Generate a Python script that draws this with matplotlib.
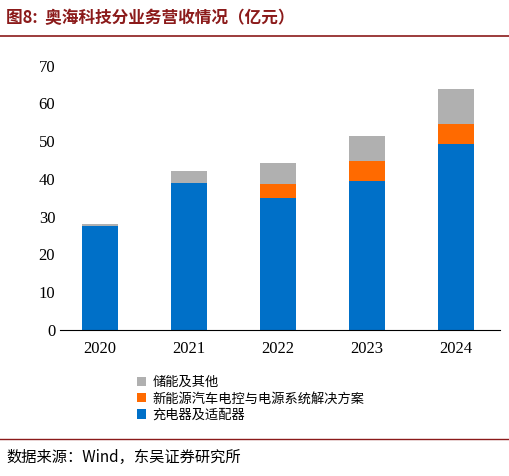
import matplotlib
matplotlib.use("Agg")
import matplotlib.pyplot as plt
import numpy as np

plt.rcParams['font.family'] = ['Noto Sans CJK SC', 'DejaVu Sans']

years = ["2020", "2021", "2022", "2023", "2024"]
charger = [27.6, 39.0, 35.0, 39.5, 49.2]
nev = [0.0, 0.0, 3.6, 5.3, 5.4]
other = [0.5, 3.2, 5.6, 6.7, 9.3]

fig = plt.figure(figsize=(5.09, 4.76), dpi=100)
ax = fig.add_axes([0.118, 0.307, 0.865, 0.555])
x = np.arange(len(years))
w = 0.4
ax.bar(x, charger, w, color='#0070C8', label='充电器及适配器')
ax.bar(x, nev, w, bottom=charger, color='#FF6A00', label='新能源汽车电控与电源系统解决方案')
ax.bar(x, other, w, bottom=np.array(charger) + np.array(nev), color='#B0B0B0', label='储能及其他')
ax.set_ylim(0, 70)
ax.set_yticks(range(0, 71, 10))
ax.set_xticks(x)
ax.set_xticklabels(years, fontfamily='Liberation Serif', fontsize=12)
for t in ax.get_yticklabels():
    t.set_fontfamily('Liberation Serif'); t.set_fontsize(12)
ax.set_xlim(-0.45, 4.5)
for s in ['top', 'right', 'left']:
    ax.spines[s].set_visible(False)
ax.tick_params(axis='y', length=0)
ax.tick_params(axis='x', length=0, pad=8)
h, l = ax.get_legend_handles_labels()
fig.legend(h[::-1], l[::-1], loc='upper left', bbox_to_anchor=(0.245, 0.235),
           frameon=False, fontsize=9.5, handlelength=0.7, handleheight=0.7,
           labelspacing=0.25, handletextpad=0.5)

fig.text(0.012, 0.962, "图8:  奥海科技分业务营收情况（亿元）", color='#8B1A1A',
         fontsize=12, fontweight='bold', va='center')
fig.add_artist(plt.Line2D([0.0, 1.0], [0.925, 0.925], color='#8B1A1A', lw=1.2))
fig.add_artist(plt.Line2D([0.0, 1.0], [0.078, 0.078], color='#8B1A1A', lw=1.0))
fig.text(0.012, 0.04, "数据来源：Wind，东吴证券研究所", fontsize=11, va='center')
fig.savefig("out.png", dpi=100)
